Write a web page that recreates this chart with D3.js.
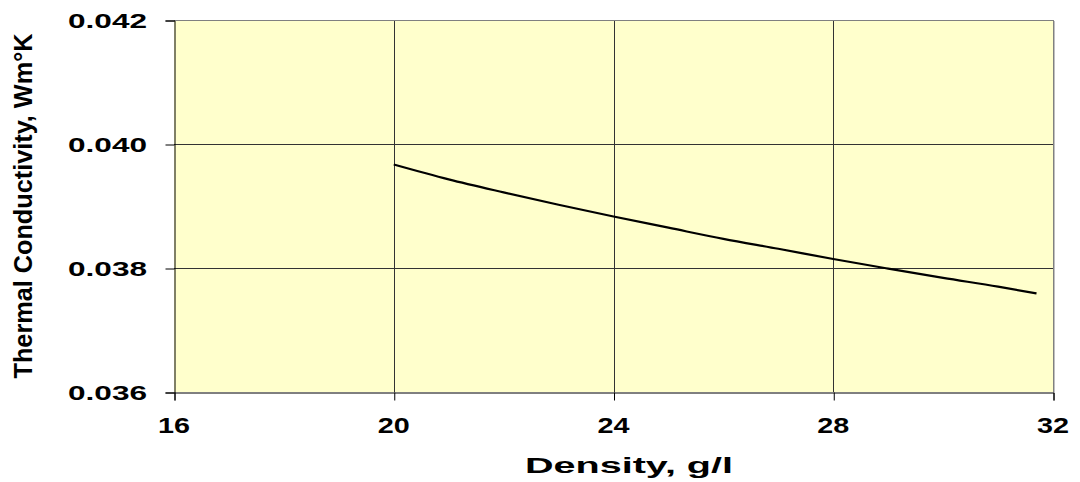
<!DOCTYPE html>
<html>
<head>
<meta charset="utf-8">
<script src="https://cdn.jsdelivr.net/npm/d3@7"></script>
<style>
html,body{margin:0;padding:0;background:#fff;}
svg{display:block;}
text{font-family:"Liberation Sans",Arial,sans-serif;font-weight:bold;fill:#000;}
</style>
</head>
<body>
<svg id="chart" width="1080" height="482"></svg>
<script>
const density = [20, 21, 22, 23, 24, 25, 26, 27, 28, 29, 30, 31, 31.7];
const conductivity = [0.03967, 0.03943, 0.03922, 0.03902, 0.03883, 0.03865, 0.03847, 0.03831, 0.038145, 0.03799, 0.03784, 0.03770, 0.03759];
const xTicks = [16, 20, 24, 28, 32];
const yTicks = [0.036, 0.038, 0.040, 0.042];
const xTitle = "Density, g/l";
const yTitle = "Thermal Conductivity, Wm°K";

const svg = d3.select("#chart");
const L = 174, R = 1053, T = 20, B = 392;
const x = d3.scaleLinear().domain([16, 32]).range([L, R]);
const y = d3.scaleLinear().domain([0.036, 0.042]).range([B, T]);

// plot background
svg.append("rect").attr("x", L).attr("y", T).attr("width", R - L).attr("height", B - T)
  .attr("fill", "#FFFFCC");

// gridlines
svg.append("g").selectAll("line").data(xTicks.filter(d => d > 16 && d < 32)).join("line")
  .attr("x1", d => Math.round(x(d)) + 0.5).attr("x2", d => Math.round(x(d)) + 0.5)
  .attr("y1", T).attr("y2", B).attr("stroke", "#333").attr("stroke-width", 1);
svg.append("g").selectAll("line").data(yTicks.filter(d => d > 0.036 && d < 0.042)).join("line")
  .attr("y1", d => Math.round(y(d)) + 0.5).attr("y2", d => Math.round(y(d)) + 0.5)
  .attr("x1", L).attr("x2", R).attr("stroke", "#333").attr("stroke-width", 1);

// top & right borders (gray)
svg.append("line").attr("x1", L).attr("x2", R + 0.5).attr("y1", T + 0.5).attr("y2", T + 0.5)
  .attr("stroke", "#808080").attr("stroke-width", 1);
svg.append("line").attr("x1", R + 0.5).attr("x2", R + 0.5).attr("y1", T).attr("y2", B)
  .attr("stroke", "#808080").attr("stroke-width", 1);
svg.append("line").attr("x1", R + 1.5).attr("x2", R + 1.5).attr("y1", T + 1).attr("y2", B)
  .attr("stroke", "#c0c0c0").attr("stroke-width", 1);

// axes
const xAxis = d3.axisBottom(x).tickValues(xTicks).tickSize(8).tickFormat("");
const yAxis = d3.axisLeft(y).tickValues(yTicks).tickSize(9).tickFormat("");
const gx = svg.append("g").attr("transform", `translate(0.5,${B + 0.5})`).call(xAxis);
const gy = svg.append("g").attr("transform", `translate(${L + 0.5},0.5)`).call(yAxis);
[gx, gy].forEach(g => {
  g.select(".domain").attr("stroke", "#000").attr("stroke-width", 1);
  g.selectAll(".tick line").attr("stroke", "#000");
});

// tick labels
svg.append("g").selectAll("text").data(xTicks).join("text")
  .attr("x", d => x(d)).attr("y", 433)
  .attr("text-anchor", "middle")
  .attr("font-size", 22)
  .attr("textLength", 32).attr("lengthAdjust", "spacingAndGlyphs")
  .text(d => d);
svg.append("g").selectAll("text").data(yTicks).join("text")
  .attr("x", 147).attr("y", d => y(d) + 7.5)
  .attr("text-anchor", "end")
  .attr("font-size", 21)
  .attr("textLength", 79).attr("lengthAdjust", "spacingAndGlyphs")
  .text(d => d3.format(".3f")(d));

// axis titles
svg.append("text").attr("x", 629).attr("y", 473).attr("text-anchor", "middle")
  .attr("font-size", 22).attr("textLength", 208).attr("lengthAdjust", "spacingAndGlyphs")
  .text(xTitle);
svg.append("text").attr("transform", "translate(32,206) rotate(-90)")
  .attr("text-anchor", "middle")
  .attr("font-size", 26).attr("textLength", 345).attr("lengthAdjust", "spacingAndGlyphs")
  .text(yTitle);

// data line
const line = d3.line().x((d, i) => x(density[i])).y(d => y(d)).curve(d3.curveMonotoneX);
svg.append("path").datum(conductivity).attr("d", line)
  .attr("fill", "none").attr("stroke", "#000").attr("stroke-width", 2.2);
</script>
</body>
</html>
